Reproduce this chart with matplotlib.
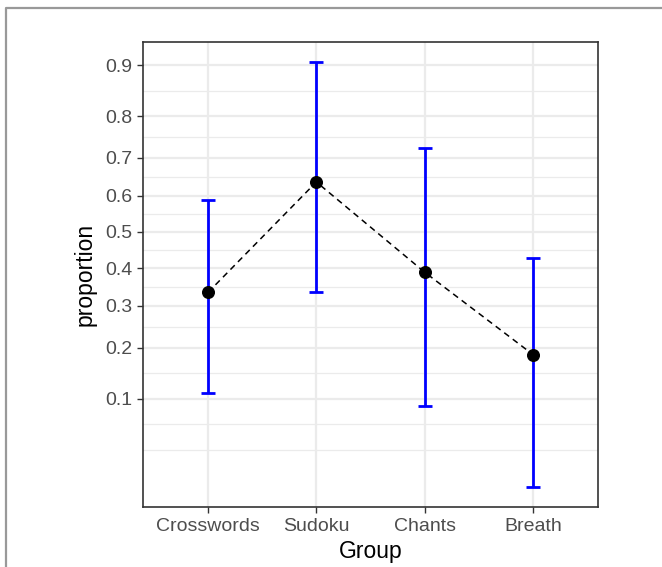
import numpy as np
import matplotlib
matplotlib.use("Agg")
import matplotlib.pyplot as plt
from matplotlib.lines import Line2D

plt.rcParams['font.family'] = ['Liberation Sans', 'DejaVu Sans']

# data
groups = ['Crosswords', 'Sudoku', 'Chants', 'Breath']
proportion = [0.335, 0.637, 0.389, 0.185]
ci_low = [0.110, 0.337, 0.088, 0.006]
ci_high = [0.587, 0.905, 0.724, 0.427]
y_ticks = [0.1, 0.2, 0.3, 0.4, 0.5, 0.6, 0.7, 0.8, 0.9]


# arcsine square-root scale
def fwd(v):
    return np.arcsin(np.sqrt(np.clip(v, 0, 1)))


def inv(t):
    return np.sin(np.clip(t, 0, np.pi / 2)) ** 2


fig = plt.figure(figsize=(6.62, 5.67), dpi=100)
ax = fig.add_axes([143 / 662, 1 - 507 / 567, (598 - 143) / 662, (507 - 42) / 567])
ax.set_yscale('function', functions=(fwd, inv))

x = np.arange(1, len(groups) + 1)
lo = np.array(proportion) - np.array(ci_low)
hi = np.array(ci_high) - np.array(proportion)

ax.plot(x, proportion, color='black', linestyle=(0, (4, 3)), linewidth=1.1, zorder=3)
ax.errorbar(x, proportion, yerr=[lo, hi], fmt='none', ecolor='#0000FF',
            elinewidth=2.0, capsize=5, capthick=2.0, zorder=4)
ax.scatter(x, proportion, s=70, color='black', zorder=5)

ax.set_xlim(0.4, 4.6)
ax.set_ylim(0.00045, 0.935)
ax.set_xticks(x)
ax.set_xticklabels(groups)
ax.set_yticks(y_ticks)
ax.set_yticklabels([f'{v:.1f}' for v in y_ticks])

# minor breaks: midpoints in transformed space, extended one step below
t = fwd(np.array(y_ticks))
step = t[1] - t[0]
tb = np.concatenate([[t[0] - step], t])
minor_t = (tb[:-1] + tb[1:]) / 2
minor_t = np.concatenate([[t[0] - step], minor_t])
ax.set_yticks(inv(minor_t), minor=True)
ax.tick_params(axis='y', which='minor', length=0)

ax.grid(True, which='major', color='#EBEBEB', linewidth=1.6, zorder=0)
ax.grid(True, which='minor', axis='y', color='#EBEBEB', linewidth=0.9, zorder=0)
ax.set_axisbelow(True)

for s in ax.spines.values():
    s.set_color('#333333')
    s.set_linewidth(1.2)

ax.tick_params(axis='both', which='major', length=4.3, width=1.0, color='#333333',
               labelcolor='#4D4D4D', labelsize=14, pad=3.5)
ax.set_xlabel('Group', fontsize=16.5, color='black', labelpad=4)
ax.set_ylabel('proportion', fontsize=16.5, color='black', labelpad=6)

# outer frame (left and top edges visible)
fig.add_artist(Line2D([6 / 662, 6 / 662, 1.0], [0.0, 1 - 8 / 567, 1 - 8 / 567],
                      transform=fig.transFigure, color='#999999', linewidth=1.6))

fig.savefig('out.png', dpi=100)
